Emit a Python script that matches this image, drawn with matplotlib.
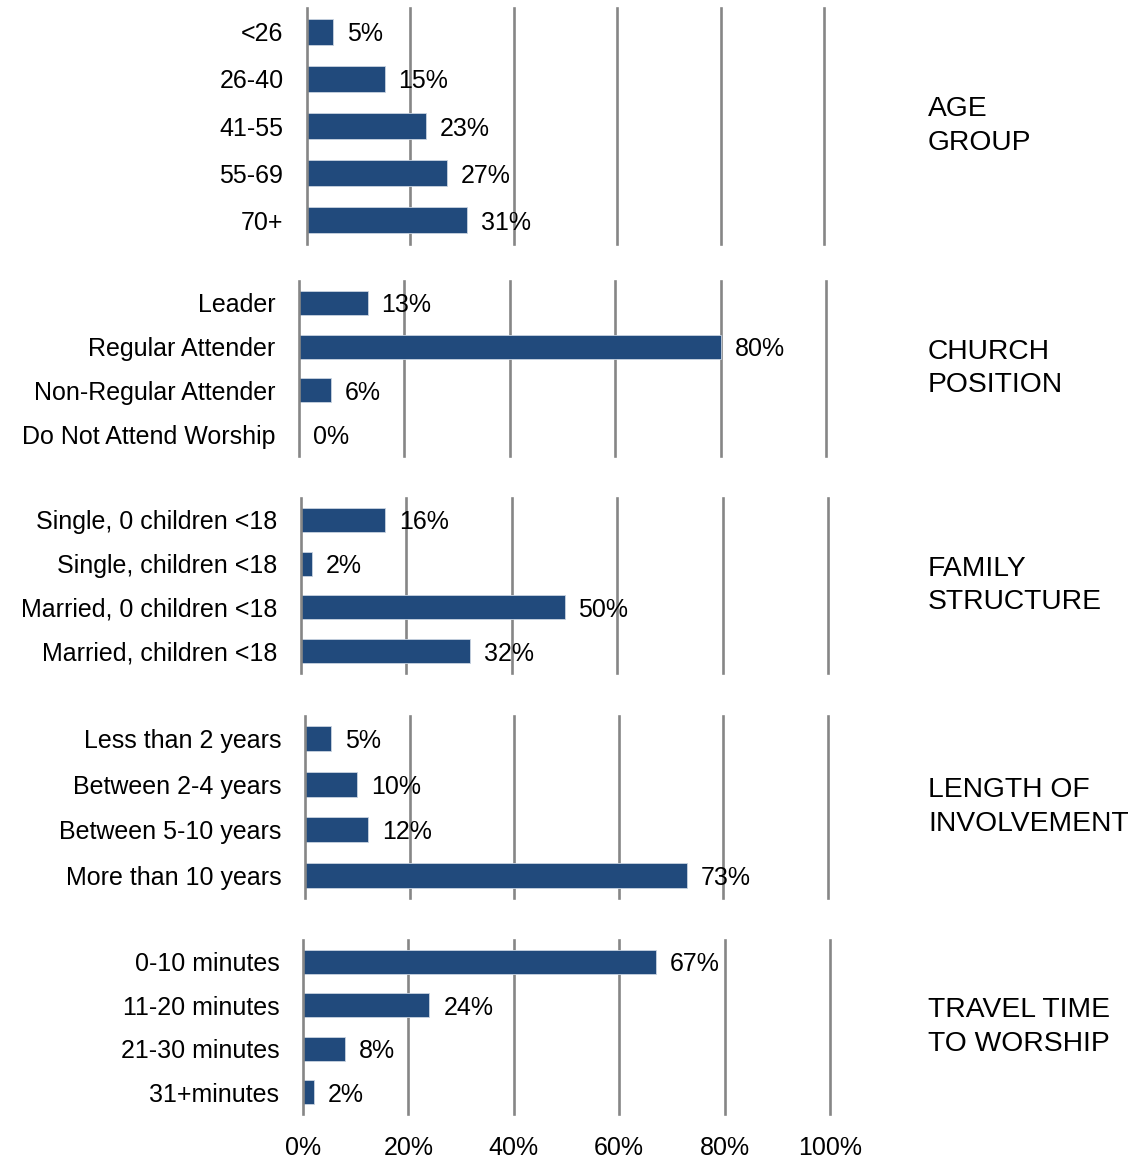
import matplotlib
matplotlib.use("Agg")
import matplotlib.pyplot as plt

plt.rcParams['font.family'] = ['Liberation Sans', 'DejaVu Sans']

age_labels = ["<26", "26-40", "41-55", "55-69", "70+"]
age_values = [5, 15, 23, 27, 31]

position_labels = ["Leader", "Regular Attender", "Non-Regular Attender", "Do Not Attend Worship"]
position_values = [13, 80, 6, 0]

family_labels = ["Single, 0 children <18", "Single, children <18", "Married, 0 children <18", "Married, children <18"]
family_values = [16, 2, 50, 32]

involvement_labels = ["Less than 2 years", "Between 2-4 years", "Between 5-10 years", "More than 10 years"]
involvement_values = [5, 10, 12, 73]

travel_labels = ["0-10 minutes", "11-20 minutes", "21-30 minutes", "31+minutes"]
travel_values = [67, 24, 8, 2]

group_titles = ["AGE\nGROUP", "CHURCH\nPOSITION", "FAMILY\nSTRUCTURE", "LENGTH OF\nINVOLVEMENT", "TRAVEL TIME\nTO WORSHIP"]
x_ticks = [0, 20, 40, 60, 80, 100]
x_tick_labels = ["0%", "20%", "40%", "60%", "80%", "100%"]

W, H = 1138, 1159
fig = plt.figure(figsize=(W / 100, H / 100), dpi=100)

# panel boxes in pixels: (x at 0%, x at 100%, top, bottom)
boxes = [
    (307, 824, 8, 244),
    (299, 826, 281, 456),
    (301, 828, 498, 673),
    (305, 828, 716, 898),
    (303, 830, 940, 1114),
]
panels = [
    (age_labels, age_values),
    (position_labels, position_values),
    (family_labels, family_values),
    (involvement_labels, involvement_values),
    (travel_labels, travel_values),
]

BAR = "#214a7c"
GRID = "#868686"
FS = 18

for i, ((labels, values), (x0, x1, yt, yb), title) in enumerate(zip(panels, boxes, group_titles)):
    ax = fig.add_axes([x0 / W, 1 - yb / H, (x1 - x0) / W, (yb - yt) / H])
    n = len(labels)
    ypos = list(range(n))
    ax.barh(ypos, values, height=0.55, color=BAR, edgecolor="#c9d3e0", linewidth=0.6, zorder=3)
    ax.set_xlim(0, 100)
    ax.set_ylim(n - 0.5, -0.5)
    ax.set_xticks(x_ticks)
    for t in x_ticks:
        ax.axvline(t, color=GRID, linewidth=1.9, zorder=4 if t == 0 else 1, clip_on=False)
    for s in ax.spines.values():
        s.set_visible(False)
    ax.set_yticks(ypos)
    ax.set_yticklabels(labels, fontsize=FS)
    ax.tick_params(axis="y", length=0, pad=17)
    if i == len(panels) - 1:
        ax.set_xticklabels(x_tick_labels, fontsize=FS)
        ax.tick_params(axis="x", length=0, pad=16)
    else:
        ax.tick_params(axis="x", length=0, labelbottom=False)
    for y, v in zip(ypos, values):
        ax.annotate(f"{v}%", (v, y), xytext=(10, 0), textcoords="offset points",
                    va="center_baseline", ha="left", fontsize=FS, zorder=5)
    fig.text(928 / W, 1 - ((yt + yb) / 2) / H, title, fontsize=20.3, ha="left", va="center",
             linespacing=1.38)

fig.savefig("out.png", dpi=100, facecolor="white")
